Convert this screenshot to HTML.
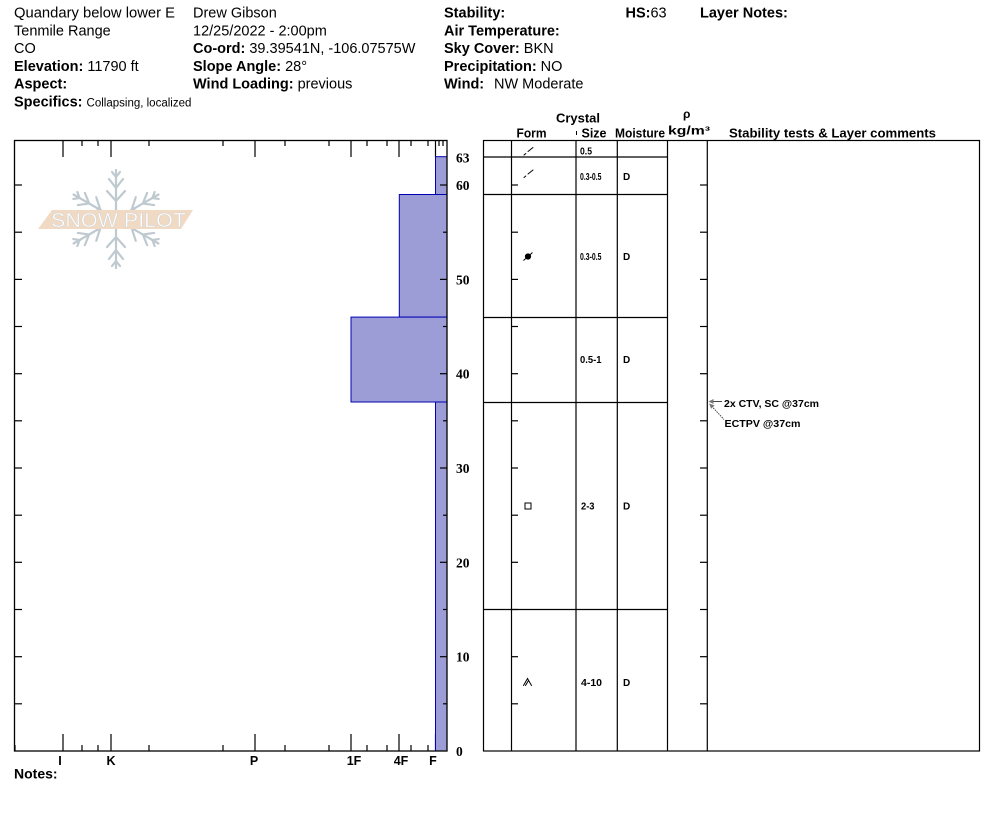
<!DOCTYPE html>
<html>
<head>
<meta charset="utf-8">
<style>
  html,body{margin:0;padding:0;background:#fff;}
  svg{display:block;}
  text{font-family:"Liberation Sans", Arial, sans-serif;fill:#000;}
  .b{font-weight:bold;}
  .ser{font-family:"Liberation Serif", "Times New Roman", serif;font-weight:bold;}
</style>
</head>
<body>
<svg width="994" height="840" viewBox="0 0 994 840" xmlns="http://www.w3.org/2000/svg">
  <rect x="0" y="0" width="994" height="840" fill="#fff"/>

  <!-- Header -->
  <g font-size="14.5">
    <text x="14" y="17.5" textLength="161" lengthAdjust="spacingAndGlyphs">Quandary below lower E</text>
    <text x="14" y="35.3">Tenmile Range</text>
    <text x="14" y="53">CO</text>
    <text x="14" y="71"><tspan class="b">Elevation:</tspan> 11790 ft</text>
    <text x="14" y="88.5"><tspan class="b">Aspect:</tspan></text>
    <text x="14" y="106.5"><tspan class="b">Specifics:</tspan> <tspan font-size="11.5">Collapsing, localized</tspan></text>

    <text x="193" y="17.5">Drew Gibson</text>
    <text x="193" y="35.3">12/25/2022 - 2:00pm</text>
    <text x="193" y="53"><tspan class="b">Co-ord:</tspan> 39.39541N, -106.07575W</text>
    <text x="193" y="71"><tspan class="b">Slope Angle:</tspan> 28°</text>
    <text x="193" y="88.5"><tspan class="b">Wind Loading:</tspan> previous</text>

    <text x="444" y="17.5" class="b">Stability:</text>
    <text x="444" y="35.3" class="b">Air Temperature:</text>
    <text x="444" y="53"><tspan class="b">Sky Cover:</tspan> BKN</text>
    <text x="444" y="71"><tspan class="b">Precipitation:</tspan> NO</text>
    <text x="444" y="88.5"><tspan class="b">Wind:</tspan></text>
    <text x="494" y="88.5">NW Moderate</text>

    <text x="625.5" y="17.5"><tspan class="b">HS:</tspan>63</text>
    <text x="700" y="17.5" class="b">Layer Notes:</text>
  </g>

  <!-- Logo -->
  <defs>
    <g id="arm" stroke="#bfc9d0" stroke-width="2.2" fill="none" stroke-linecap="round">
      <line x1="0" y1="-6" x2="0" y2="-49"/>
      <polyline points="-9,-28 0,-18 9,-28"/>
      <polyline points="-7,-40 0,-31 7,-40"/>
      <polyline points="-4,-47 0,-42 4,-47"/>
    </g>
  </defs>
  <g transform="translate(116,219)">
    <use href="#arm"/>
    <use href="#arm" transform="rotate(60)"/>
    <use href="#arm" transform="rotate(120)"/>
    <use href="#arm" transform="rotate(180)"/>
    <use href="#arm" transform="rotate(240)"/>
    <use href="#arm" transform="rotate(300)"/>
  </g>
  <polygon points="52,210 193,210 181,229 38,229" fill="#f1dac4"/>
  <text x="51" y="227" font-size="20" textLength="135" lengthAdjust="spacingAndGlyphs" fill="#fff" stroke="#d2d2d2" stroke-width="0.5" style="fill:#fff">SNOW PILOT</text>

  <!-- Left chart: ticks (drawn before bars) -->
  <g stroke="#000" stroke-width="1.2">
    <line x1="63" y1="140" x2="63" y2="157"/>
    <line x1="111" y1="140" x2="111" y2="157"/>
    <line x1="255" y1="140" x2="255" y2="157"/>
    <line x1="351" y1="140" x2="351" y2="157"/>
    <line x1="399" y1="140" x2="399" y2="157"/>
    <line x1="435.5" y1="140" x2="435.5" y2="157"/>
    <line x1="82" y1="140" x2="82" y2="146"/>
    <line x1="98" y1="140" x2="98" y2="146"/>
    <line x1="149" y1="140" x2="149" y2="146"/>
    <line x1="223" y1="140" x2="223" y2="146"/>
    <line x1="285" y1="140" x2="285" y2="146"/>
    <line x1="329" y1="140" x2="329" y2="146"/>
    <line x1="367" y1="140" x2="367" y2="146"/>
    <line x1="387" y1="140" x2="387" y2="146"/>
    <line x1="411" y1="140" x2="411" y2="146"/>
    <line x1="428" y1="140" x2="428" y2="146"/>
    <line x1="439" y1="140" x2="439" y2="146"/>
    <line x1="443" y1="140" x2="443" y2="146"/>
    <line x1="63" y1="734" x2="63" y2="751"/>
    <line x1="111" y1="734" x2="111" y2="751"/>
    <line x1="255" y1="734" x2="255" y2="751"/>
    <line x1="351" y1="734" x2="351" y2="751"/>
    <line x1="399" y1="734" x2="399" y2="751"/>
    <line x1="435.5" y1="734" x2="435.5" y2="751"/>
    <line x1="15" y1="745" x2="15" y2="751"/>
    <line x1="82" y1="745" x2="82" y2="751"/>
    <line x1="98" y1="745" x2="98" y2="751"/>
    <line x1="149" y1="745" x2="149" y2="751"/>
    <line x1="223" y1="745" x2="223" y2="751"/>
    <line x1="285" y1="745" x2="285" y2="751"/>
    <line x1="329" y1="745" x2="329" y2="751"/>
    <line x1="367" y1="745" x2="367" y2="751"/>
    <line x1="387" y1="745" x2="387" y2="751"/>
    <line x1="411" y1="745" x2="411" y2="751"/>
    <line x1="428" y1="745" x2="428" y2="751"/>
    <line x1="14" y1="185" x2="22" y2="185"/>
    <line x1="14" y1="232.2" x2="22" y2="232.2"/>
    <line x1="14" y1="279.4" x2="22" y2="279.4"/>
    <line x1="14" y1="326.5" x2="22" y2="326.5"/>
    <line x1="14" y1="373.7" x2="22" y2="373.7"/>
    <line x1="14" y1="420.8" x2="22" y2="420.8"/>
    <line x1="14" y1="468" x2="22" y2="468"/>
    <line x1="14" y1="515.2" x2="22" y2="515.2"/>
    <line x1="14" y1="562.3" x2="22" y2="562.3"/>
    <line x1="14" y1="609.5" x2="22" y2="609.5"/>
    <line x1="14" y1="656.7" x2="22" y2="656.7"/>
    <line x1="14" y1="703.8" x2="22" y2="703.8"/>
  </g>

  <!-- Bars -->
  <g fill="#9c9cd6" stroke="#0000b4" stroke-width="1">
    <rect x="435.5" y="156.7" width="11.5" height="37.8"/>
    <rect x="399.3" y="194.5" width="47.7" height="122.6"/>
    <rect x="351" y="317.1" width="96" height="84.9"/>
    <rect x="435.5" y="402" width="11.5" height="349"/>
  </g>

  <g stroke="#000" stroke-width="1.2">
    <line x1="440" y1="185" x2="447" y2="185"/>
    <line x1="443" y1="232.2" x2="447" y2="232.2"/>
    <line x1="440" y1="279.4" x2="447" y2="279.4"/>
    <line x1="443" y1="326.5" x2="447" y2="326.5"/>
    <line x1="440" y1="373.7" x2="447" y2="373.7"/>
    <line x1="443" y1="420.8" x2="447" y2="420.8"/>
    <line x1="440" y1="468" x2="447" y2="468"/>
    <line x1="443" y1="515.2" x2="447" y2="515.2"/>
    <line x1="440" y1="562.3" x2="447" y2="562.3"/>
    <line x1="443" y1="609.5" x2="447" y2="609.5"/>
    <line x1="440" y1="656.7" x2="447" y2="656.7"/>
    <line x1="443" y1="703.8" x2="447" y2="703.8"/>
  </g>

  <rect x="14.5" y="140.5" width="432.5" height="610.5" fill="none" stroke="#000" stroke-width="1.3"/>

  <g class="ser" font-size="13.5">
    <text x="456" y="162.3" class="ser">63</text>
    <text x="456" y="190" class="ser">60</text>
    <text x="456" y="284.4" class="ser">50</text>
    <text x="456" y="378.7" class="ser">40</text>
    <text x="456" y="473" class="ser">30</text>
    <text x="456" y="567.3" class="ser">20</text>
    <text x="456" y="661.7" class="ser">10</text>
    <text x="456" y="756" class="ser">0</text>
  </g>

  <g class="b" font-size="12.5" text-anchor="middle">
    <text x="60" y="765" class="b">I</text>
    <text x="111" y="765" class="b">K</text>
    <text x="254" y="765" class="b">P</text>
    <text x="354" y="765" class="b">1F</text>
    <text x="401" y="765" class="b">4F</text>
    <text x="433" y="765" class="b">F</text>
  </g>
  <text x="14" y="778.5" font-size="14" class="b">Notes:</text>

  <!-- Table headers -->
  <g class="b">
    <text x="556" y="122.5" font-size="13" class="b" textLength="44" lengthAdjust="spacingAndGlyphs">Crystal</text>
    <text x="516.5" y="137.5" font-size="12.5" class="b" textLength="30" lengthAdjust="spacingAndGlyphs">Form</text>
    <text x="581.5" y="137.5" font-size="12.5" class="b" textLength="25" lengthAdjust="spacingAndGlyphs">Size</text>
    <text x="615" y="137.5" font-size="12.5" class="b" textLength="50" lengthAdjust="spacingAndGlyphs">Moisture</text>
    <text x="683" y="118" font-size="12" class="b">ρ</text>
    <text x="668" y="134.5" font-size="11.5" class="b" textLength="42" lengthAdjust="spacingAndGlyphs">kg/m³</text>
    <text x="729" y="137.5" font-size="13" class="b" textLength="207" lengthAdjust="spacingAndGlyphs">Stability tests &amp; Layer comments</text>
  </g>
  <line x1="576.5" y1="131" x2="576.5" y2="135" stroke="#000" stroke-width="1"/>

  <!-- Table frame and grid -->
  <g stroke="#000" stroke-width="1.2" fill="none">
    <rect x="483.5" y="140.5" width="496" height="610.5"/>
    <line x1="511.5" y1="140.5" x2="511.5" y2="751"/>
    <line x1="576" y1="140.5" x2="576" y2="751"/>
    <line x1="617.3" y1="140.5" x2="617.3" y2="751"/>
    <line x1="667.5" y1="140.5" x2="667.5" y2="751"/>
    <line x1="707.3" y1="140.5" x2="707.3" y2="751"/>
    <line x1="483.5" y1="157" x2="667.5" y2="157"/>
    <line x1="483.5" y1="194.5" x2="667.5" y2="194.5"/>
    <line x1="483.5" y1="317.5" x2="667.5" y2="317.5"/>
    <line x1="483.5" y1="402.5" x2="667.5" y2="402.5"/>
    <line x1="483.5" y1="609.5" x2="667.5" y2="609.5"/>
  </g>
  <g stroke="#000" stroke-width="1.2">
    <line x1="511" y1="185" x2="518" y2="185"/>
    <line x1="511" y1="232.2" x2="518" y2="232.2"/>
    <line x1="511" y1="279.4" x2="518" y2="279.4"/>
    <line x1="511" y1="326.5" x2="518" y2="326.5"/>
    <line x1="511" y1="373.7" x2="518" y2="373.7"/>
    <line x1="511" y1="420.8" x2="518" y2="420.8"/>
    <line x1="511" y1="468" x2="518" y2="468"/>
    <line x1="511" y1="515.2" x2="518" y2="515.2"/>
    <line x1="511" y1="562.3" x2="518" y2="562.3"/>
    <line x1="511" y1="609.5" x2="518" y2="609.5"/>
    <line x1="511" y1="656.7" x2="518" y2="656.7"/>
    <line x1="511" y1="703.8" x2="518" y2="703.8"/>
    <line x1="700" y1="185" x2="707" y2="185"/>
    <line x1="700" y1="232.2" x2="707" y2="232.2"/>
    <line x1="700" y1="279.4" x2="707" y2="279.4"/>
    <line x1="700" y1="326.5" x2="707" y2="326.5"/>
    <line x1="700" y1="373.7" x2="707" y2="373.7"/>
    <line x1="700" y1="420.8" x2="707" y2="420.8"/>
    <line x1="700" y1="468" x2="707" y2="468"/>
    <line x1="700" y1="515.2" x2="707" y2="515.2"/>
    <line x1="700" y1="562.3" x2="707" y2="562.3"/>
    <line x1="700" y1="609.5" x2="707" y2="609.5"/>
    <line x1="700" y1="656.7" x2="707" y2="656.7"/>
    <line x1="700" y1="703.8" x2="707" y2="703.8"/>
  </g>

  <!-- Crystal form symbols -->
  <g stroke="#000" stroke-width="1" fill="none" stroke-linecap="round">
    <line x1="524" y1="155" x2="525.8" y2="153.5"/>
    <line x1="528" y1="151.5" x2="533" y2="147.5"/>
    <line x1="524" y1="177.5" x2="525.8" y2="176"/>
    <line x1="528" y1="174" x2="533" y2="170"/>
    <line x1="523.8" y1="260.3" x2="532.2" y2="252.8"/>
    <rect x="525" y="503" width="6" height="6"/>
    <polyline points="523.5,685.5 527.5,678.5 531.5,685.5"/>
    <line x1="525.5" y1="685.5" x2="528.5" y2="680.5"/>
  </g>
  <circle cx="528" cy="256.5" r="3.1" fill="#000"/>

  <!-- Table cell text -->
  <g class="b" font-size="10">
    <text x="580" y="154.5" class="b" textLength="12" lengthAdjust="spacingAndGlyphs">0.5</text>
    <text x="580" y="180" class="b" textLength="21.5" lengthAdjust="spacingAndGlyphs">0.3-0.5</text>
    <text x="580" y="259.8" class="b" textLength="21.5" lengthAdjust="spacingAndGlyphs">0.3-0.5</text>
    <text x="580" y="362.8" class="b" textLength="21.5" lengthAdjust="spacingAndGlyphs">0.5-1</text>
    <text x="581" y="509.5" class="b" textLength="13.5" lengthAdjust="spacingAndGlyphs">2-3</text>
    <text x="581" y="685.8" class="b" textLength="21" lengthAdjust="spacingAndGlyphs">4-10</text>
    <text x="623" y="180" class="b">D</text>
    <text x="623" y="259.8" class="b">D</text>
    <text x="623" y="362.8" class="b">D</text>
    <text x="623" y="509.5" class="b">D</text>
    <text x="623" y="685.8" class="b">D</text>
  </g>

  <!-- Stability test annotations -->
  <g stroke="#444" stroke-width="1" fill="none">
    <line x1="711" y1="401.5" x2="722" y2="401.5"/>
    <line x1="711.5" y1="406" x2="724" y2="419.5" stroke-dasharray="1.5,1"/>
  </g>
  <polygon points="708.5,401.5 713.5,399 713.5,404" fill="#777"/>
  <polygon points="709,403.5 714.6,405.4 711.2,408.7" fill="#777"/>
  <text x="724" y="407" font-size="10.5" class="b" textLength="95" lengthAdjust="spacingAndGlyphs">2x CTV, SC @37cm</text>
  <text x="724.5" y="427" font-size="10.5" class="b" textLength="76" lengthAdjust="spacingAndGlyphs">ECTPV @37cm</text>
</svg>
</body>
</html>
